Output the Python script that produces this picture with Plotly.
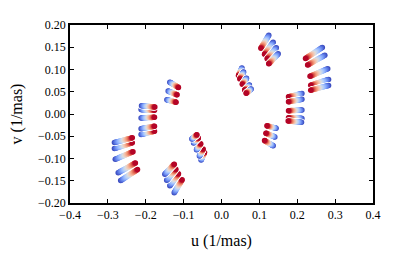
import plotly.graph_objects as go

# Wavelength channels (micron)
wavelengths_um = [2.00, 2.02, 2.04, 2.06, 2.08, 2.10, 2.12, 2.14, 2.16, 2.18, 2.20,
                  2.22, 2.24, 2.26, 2.28, 2.30, 2.32, 2.34, 2.36, 2.38, 2.40]
ref_wavelength_um = 2.20

# uv points (1/mas) of each exposure at the reference wavelength, per baseline
u_b1 = [0.242, 0.248, 0.255, 0.257, 0.257]
v_b1 = [0.136, 0.120, 0.0925, 0.0707, 0.0584]
u_b2 = [0.193, 0.193, 0.193, 0.193, 0.192]
v_b2 = [0.042, 0.030, 0.008, -0.009, -0.017]
u_b3 = [0.1135, 0.124, 0.1315, 0.136]
v_b3 = [0.161, 0.1465, 0.1355, 0.123]
u_b4 = [0.049, 0.053, 0.060, 0.067, 0.071]
v_b4 = [0.094, 0.086, 0.073, 0.059, 0.051]
u_b5 = [0.131, 0.128, 0.124]
v_b5 = [-0.029, -0.047, -0.065]

baselines = [(u_b1, v_b1), (u_b2, v_b2), (u_b3, v_b3), (u_b4, v_b4), (u_b5, v_b5)]

x_ticks = [-0.4, -0.3, -0.2, -0.1, 0.0, 0.1, 0.2, 0.3, 0.4]
y_ticks = [-0.20, -0.15, -0.10, -0.05, 0.00, 0.05, 0.10, 0.15, 0.20]

coolwarm = [
    [0.0, "rgb(59,76,192)"], [0.125, "rgb(98,130,234)"], [0.25, "rgb(141,176,254)"],
    [0.375, "rgb(184,208,249)"], [0.5, "rgb(221,221,221)"], [0.625, "rgb(245,196,173)"],
    [0.75, "rgb(244,154,123)"], [0.875, "rgb(222,96,77)"], [1.0, "rgb(180,4,38)"],
]

fig = go.Figure()
for ub, vb in baselines:
    for sign in (1, -1):
        for u0, v0 in zip(ub, vb):
            xs, ys, cs = [], [], []
            for lam in wavelengths_um:
                f = ref_wavelength_um / lam
                xs.append(sign * u0 * f)
                ys.append(sign * v0 * f)
                cs.append(lam)
            # white outline under the track
            fig.add_trace(go.Scatter(
                x=xs, y=ys, mode="markers", showlegend=False, hoverinfo="skip",
                marker=dict(size=7, color="white", line=dict(width=0)),
            ))
            fig.add_trace(go.Scatter(
                x=xs, y=ys, mode="markers", showlegend=False, hoverinfo="skip",
                marker=dict(size=5.5, color=cs, colorscale=coolwarm,
                            cmin=wavelengths_um[0], cmax=wavelengths_um[-1],
                            line=dict(width=0)),
            ))

def fmt(v, d):
    s = f"{v:.{d}f}"
    if s.startswith("-"):
        s = "\u2212" + s[1:]
    return s

axis_common = dict(
    showgrid=False, zeroline=False, showline=True, linecolor="black", linewidth=1.5,
    mirror="ticks", ticks="inside", ticklen=4, tickwidth=1, tickcolor="black",
    tickfont=dict(family="Liberation Serif", size=12, color="black"),
    automargin=False,
)

fig.update_xaxes(range=[-0.4, 0.4], tickvals=x_ticks, ticktext=[fmt(t, 1) for t in x_ticks],
                 title=dict(text="u (1/mas)", font=dict(family="Liberation Serif", size=16, color="black"), standoff=14),
                 **axis_common)
fig.update_yaxes(range=[-0.2, 0.2], tickvals=y_ticks, ticktext=[fmt(t, 2) for t in y_ticks],
                 title=dict(text="v (1/mas)", font=dict(family="Liberation Serif", size=16, color="black"), standoff=13),
                 **axis_common)

# page body has an 8px default margin, so the figure is offset by 8px
fig.update_layout(
    width=407, height=248,
    margin=dict(l=62, r=42, t=17, b=53),
    paper_bgcolor="white", plot_bgcolor="white",
    font=dict(family="Liberation Serif", color="black"),
)

fig.write_html("out.html")
